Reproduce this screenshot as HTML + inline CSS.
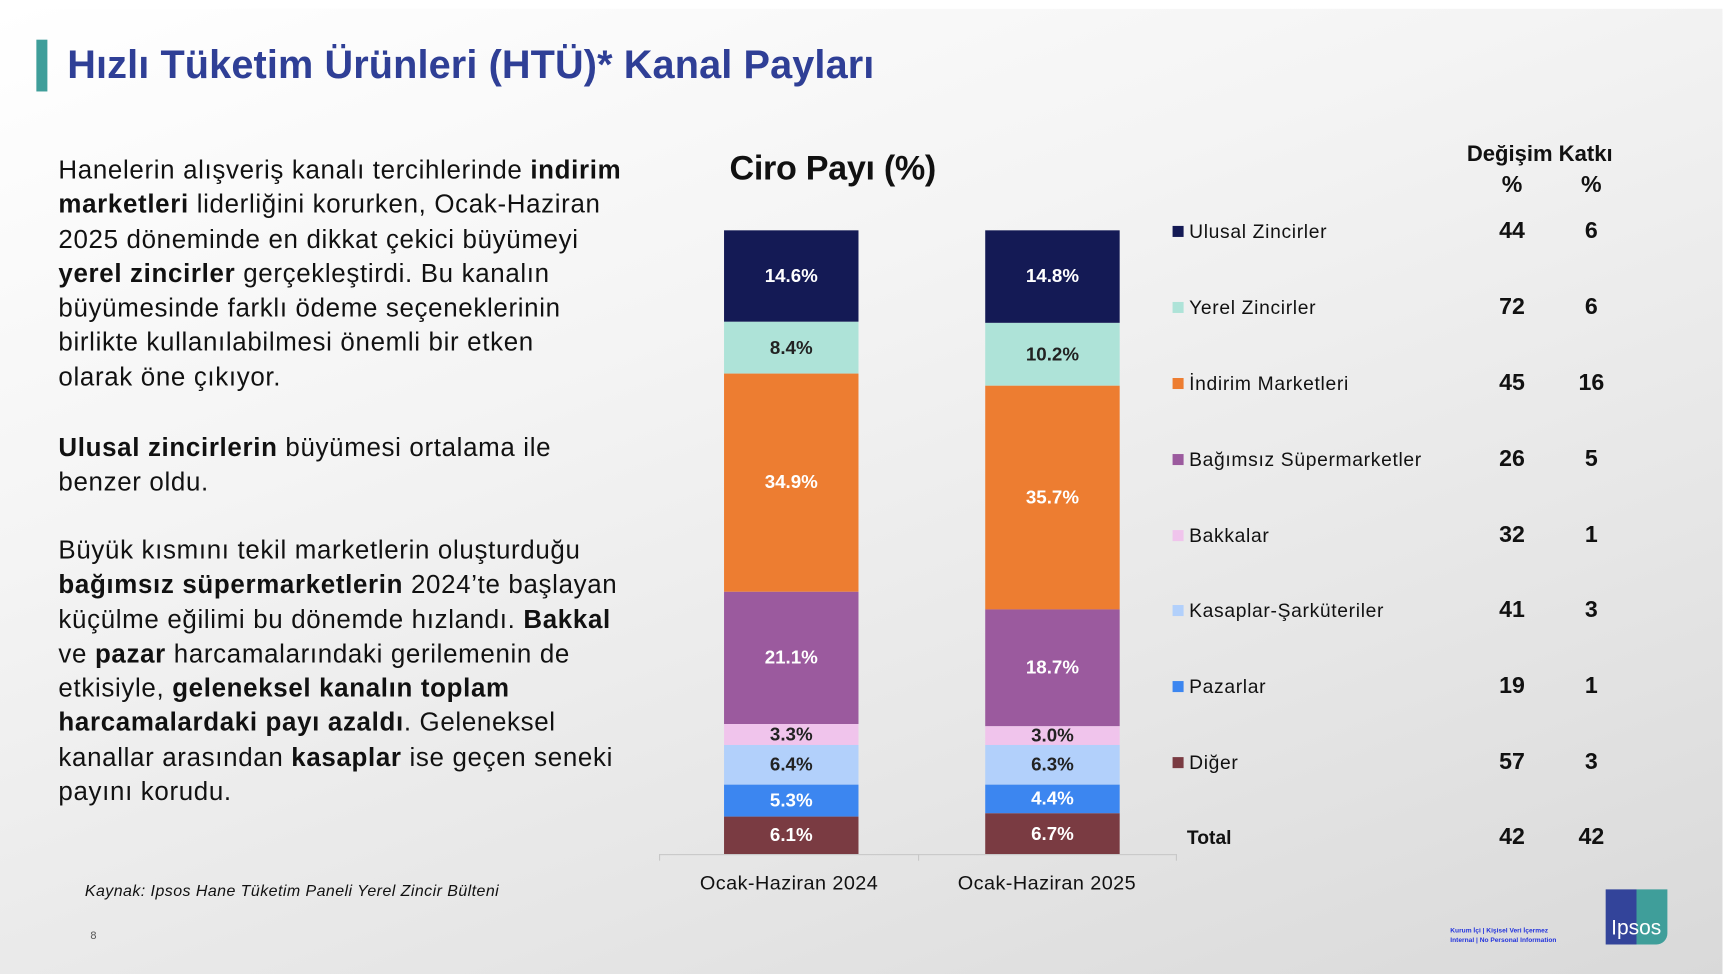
<!DOCTYPE html>
<html><head><meta charset="utf-8"><style>
html,body{margin:0;padding:0;width:1728px;height:974px;overflow:hidden;background:#fff}
#w{position:absolute;left:0;top:0;width:1568px;height:884px;transform:scale(1.10204);transform-origin:0 0;font-family:"Liberation Sans",sans-serif;color:#111}
#bg{position:absolute;left:0;top:8px;width:1563px;height:876px;background:linear-gradient(160deg,#ffffff 0%,#f4f4f4 35%,#e6e6e6 70%,#d9d9d9 100%)}
.a{position:absolute;white-space:nowrap}
.p{font-size:23.5px;line-height:31.3px;color:#111;letter-spacing:0.6px}
.seg{position:absolute;width:122px;display:flex;align-items:center;justify-content:center;font-weight:bold;font-size:17px}
.lg{position:absolute;font-size:17.5px;line-height:20px;letter-spacing:0.6px}
.sq{position:absolute;width:10px;height:10px;left:1064px}
.v{position:absolute;width:40px;text-align:center;font-size:21px;line-height:22px;font-weight:bold}
</style></head><body><div id="w">
<div id="bg"></div>
<div class="a" style="left:33px;top:36px;width:10px;height:47px;background:#3f9e9a"></div>
<div class="a" style="left:61px;top:38px;font-size:36px;font-weight:bold;color:#2f3f96;letter-spacing:0.1px">Hızlı Tüketim Ürünleri (HTÜ)* Kanal Payları</div>
<div class="a p" style="left:53px;top:139px">Hanelerin alışveriş kanalı tercihlerinde <b>indirim</b><br><b>marketleri</b> liderliğini korurken, Ocak-Haziran<br>2025 döneminde en dikkat çekici büyümeyi<br><b>yerel zincirler</b> gerçekleştirdi. Bu kanalın<br>büyümesinde farklı ödeme seçeneklerinin<br>birlikte kullanılabilmesi önemli bir etken<br>olarak öne çıkıyor.</div>
<div class="a p" style="left:53px;top:391px"><b>Ulusal zincirlerin</b> büyümesi ortalama ile<br>benzer oldu.</div>
<div class="a p" style="left:53px;top:484px">Büyük kısmını tekil marketlerin oluşturduğu<br><b>bağımsız süpermarketlerin</b> 2024’te başlayan<br>küçülme eğilimi bu dönemde hızlandı. <b>Bakkal</b><br>ve <b>pazar</b> harcamalarındaki gerilemenin de<br>etkisiyle, <b>geleneksel kanalın toplam</b><br><b>harcamalardaki payı azaldı</b>. Geleneksel<br>kanallar arasından <b>kasaplar</b> ise geçen seneki<br>payını korudu.</div>
<div class="a" style="left:77px;top:801px;font-size:14.5px;font-style:italic;letter-spacing:0.4px">Kaynak: Ipsos Hane Tüketim Paneli Yerel Zincir Bülteni</div>
<div class="a" style="left:82px;top:844px;font-size:10px;color:#555">8</div>
<div class="a" style="left:662px;top:135px;font-size:31px;font-weight:bold;letter-spacing:-0.3px">Ciro Payı (%)</div>
<!-- bar1 -->
<div class="seg" style="left:657px;top:209px;height:83px;background:#141a55;color:#fff">14.6%</div>
<div class="seg" style="left:657px;top:292px;height:47px;background:#aee3d8;color:#222">8.4%</div>
<div class="seg" style="left:657px;top:339px;height:198px;background:#ed7d31;color:#fff">34.9%</div>
<div class="seg" style="left:657px;top:537px;height:120px;background:#9b5a9e;color:#fff">21.1%</div>
<div class="seg" style="left:657px;top:657px;height:19px;background:#f0c4ec;color:#222">3.3%</div>
<div class="seg" style="left:657px;top:676px;height:36px;background:#b2d0fb;color:#222">6.4%</div>
<div class="seg" style="left:657px;top:712px;height:29px;background:#3c86f0;color:#fff">5.3%</div>
<div class="seg" style="left:657px;top:741px;height:34px;background:#7a3b42;color:#fff">6.1%</div>
<!-- bar2 -->
<div class="seg" style="left:894px;top:209px;height:84px;background:#141a55;color:#fff">14.8%</div>
<div class="seg" style="left:894px;top:293px;height:57px;background:#aee3d8;color:#222">10.2%</div>
<div class="seg" style="left:894px;top:350px;height:203px;background:#ed7d31;color:#fff">35.7%</div>
<div class="seg" style="left:894px;top:553px;height:106px;background:#9b5a9e;color:#fff">18.7%</div>
<div class="seg" style="left:894px;top:659px;height:17px;background:#f0c4ec;color:#222">3.0%</div>
<div class="seg" style="left:894px;top:676px;height:36px;background:#b2d0fb;color:#222">6.3%</div>
<div class="seg" style="left:894px;top:712px;height:26px;background:#3c86f0;color:#fff">4.4%</div>
<div class="seg" style="left:894px;top:738px;height:37px;background:#7a3b42;color:#fff">6.7%</div>
<div class="a" style="left:598px;top:775px;width:470px;height:1px;background:#c8c8c8"></div>
<div class="a" style="left:598px;top:775px;width:1px;height:6px;background:#c8c8c8"></div>
<div class="a" style="left:833px;top:775px;width:1px;height:6px;background:#c8c8c8"></div>
<div class="a" style="left:1067px;top:775px;width:1px;height:6px;background:#c8c8c8"></div>
<div class="a" style="left:616px;top:791px;width:200px;text-align:center;font-size:18px;letter-spacing:0.4px">Ocak-Haziran 2024</div>
<div class="a" style="left:850px;top:791px;width:200px;text-align:center;font-size:18px;letter-spacing:0.4px">Ocak-Haziran 2025</div>
<!-- legend -->
<div class="a" style="left:1331px;top:129px;font-size:20px;font-weight:bold">Değişim Katkı</div>
<div class="v" style="left:1352px;top:157px;font-weight:bold">%</div>
<div class="v" style="left:1424px;top:157px;font-weight:bold">%</div>
<div class="sq" style="top:205px;background:#141a55"></div><div class="lg" style="left:1079px;top:200px">Ulusal Zincirler</div><div class="v" style="left:1352px;top:199px">44</div><div class="v" style="left:1424px;top:199px">6</div>
<div class="sq" style="top:274px;background:#aee3d8"></div><div class="lg" style="left:1079px;top:269px">Yerel Zincirler</div><div class="v" style="left:1352px;top:268px">72</div><div class="v" style="left:1424px;top:268px">6</div>
<div class="sq" style="top:343px;background:#ed7d31"></div><div class="lg" style="left:1079px;top:338px">İndirim Marketleri</div><div class="v" style="left:1352px;top:337px">45</div><div class="v" style="left:1424px;top:337px">16</div>
<div class="sq" style="top:412px;background:#9b5a9e"></div><div class="lg" style="left:1079px;top:407px">Bağımsız Süpermarketler</div><div class="v" style="left:1352px;top:406px">26</div><div class="v" style="left:1424px;top:406px">5</div>
<div class="sq" style="top:481px;background:#f0c4ec"></div><div class="lg" style="left:1079px;top:476px">Bakkalar</div><div class="v" style="left:1352px;top:475px">32</div><div class="v" style="left:1424px;top:475px">1</div>
<div class="sq" style="top:549px;background:#b2d0fb"></div><div class="lg" style="left:1079px;top:544px">Kasaplar-Şarküteriler</div><div class="v" style="left:1352px;top:543px">41</div><div class="v" style="left:1424px;top:543px">3</div>
<div class="sq" style="top:618px;background:#3c86f0"></div><div class="lg" style="left:1079px;top:613px">Pazarlar</div><div class="v" style="left:1352px;top:612px">19</div><div class="v" style="left:1424px;top:612px">1</div>
<div class="sq" style="top:687px;background:#7a3b42"></div><div class="lg" style="left:1079px;top:682px">Diğer</div><div class="v" style="left:1352px;top:681px">57</div><div class="v" style="left:1424px;top:681px">3</div>
<div class="lg" style="left:1077px;top:750px;font-weight:bold;letter-spacing:0">Total</div><div class="v" style="left:1352px;top:749px">42</div><div class="v" style="left:1424px;top:749px">42</div>
<div class="a" style="left:1316px;top:841px;font-size:6px;line-height:9px;color:#2233dd;font-weight:bold">Kurum İçi | Kişisel Veri İçermez<br>Internal | No Personal Information</div>
<div class="a" style="left:1457px;top:807px;width:56px;height:50px;background:linear-gradient(90deg,#33449a 50%,#3f9e9a 50%);border-radius:0 0 10px 0"></div>
<div class="a" style="left:1462px;top:832px;font-size:19px;color:#fff">Ipsos</div>
</div></body></html>
